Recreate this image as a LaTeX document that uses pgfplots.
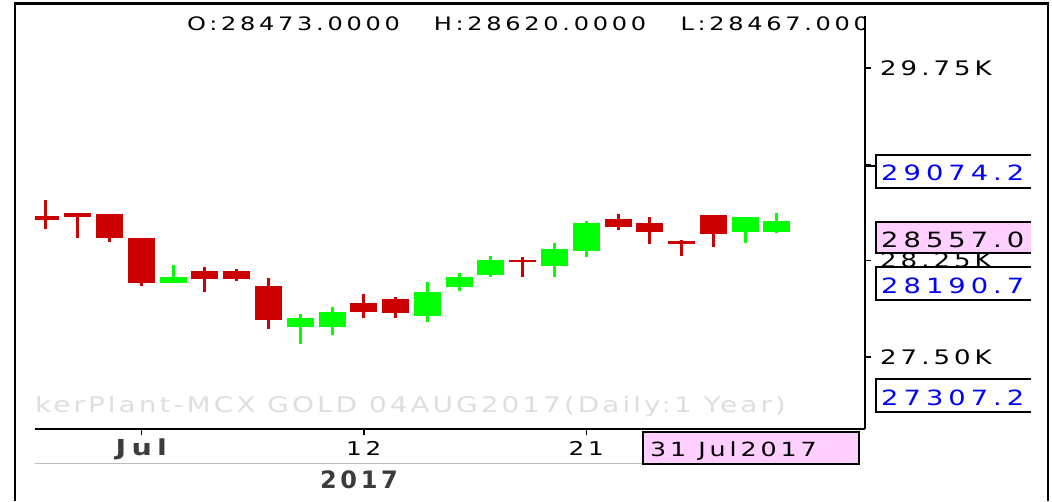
\documentclass[border=0pt]{standalone}
\usepackage{fontspec}
\setmainfont{DejaVu Sans}
\newfontfamily\tp[FakeStretch=1.3,LetterSpace=20]{DejaVu Sans}
\newfontfamily\tpb[FakeStretch=1.3,LetterSpace=24]{DejaVu Sans}
\newfontfamily\tpw[FakeStretch=1.3,LetterSpace=14]{DejaVu Sans}
\newfontfamily\tpn[LetterSpace=15]{DejaVu Sans}
\usepackage{pgfplots}
\usepackage{pgfplotstable}
\pgfplotsset{compat=1.18}

\definecolor{cred}{RGB}{204,0,0}
\definecolor{cgreen}{RGB}{0,255,0}
\definecolor{cpink}{RGB}{255,208,255}
\definecolor{cblue}{RGB}{0,0,255}
\definecolor{cwater}{RGB}{222,222,222}
\definecolor{cdark}{RGB}{60,60,60}
\definecolor{cline}{RGB}{190,190,190}

% daily OHLC, MCX GOLD 04AUG2017; i = trading day (0 = 28 Jun, 23 = 31 Jul)
\pgfplotstableread{
i  O     H     L     C
0  28597 28722 28496 28566
1  28621 28621 28426 28590
2  28613 28613 28395 28426
3  28426 28426 28051 28075
5  28168 28200 28005 28106
6  28168 28184 28090 28106
7  28051 28114 27716 27786
10 27919 27989 27802 27849
11 27950 27966 27802 27841
15 28254 28278 28122 28239
18 28574 28613 28488 28512
19 28543 28590 28379 28473
20 28402 28410 28285 28379
21 28605 28605 28356 28457
}\downdays

\pgfplotstableread{
i  O     H     L     C
4  28075 28215 28075 28122
8  27732 27833 27599 27802
9  27732 27888 27669 27849
12 27817 28083 27771 28005
13 28044 28153 28013 28122
14 28137 28285 28122 28254
16 28207 28387 28122 28340
17 28324 28558 28278 28543
22 28473 28590 28387 28590
23 28473 28620 28467 28557
}\updays

\pgfplotsset{
  candle/.style 2 args={draw=none, mark=none,
    error bars/.cd, y dir=plus, y explicit, error mark=none,
    error bar style={draw=#1, line width=#2}},
}

\begin{document}
\begin{tikzpicture}[x=1pt,y=1pt]
\useasboundingbox (0,0) rectangle (1052,-501);

% watermark and OHLC header, clipped at the plot area
\begin{scope}
\clip (35,-5) rectangle (865,-429);
\node[anchor=base west, inner sep=0pt, text=cwater, font=\tpw\fontsize{21.5}{21.5}\selectfont]
  at (35,-412.5) {kerPlant-MCX GOLD 04AUG2017(Daily:1 Year)};
\node[anchor=base west, inner sep=0pt, font=\tp\fontsize{18.5}{18.5}\selectfont] at (187,-30) {O:28473.0000};
\node[anchor=base west, inner sep=0pt, font=\tp\fontsize{18.5}{18.5}\selectfont] at (433.7,-30) {H:28620.0000};
\node[anchor=base west, inner sep=0pt, font=\tp\fontsize{18.5}{18.5}\selectfont] at (680.3,-30) {L:28467.0000};
\end{scope}

\begin{axis}[
  at={(35pt,-429pt)}, anchor=south west,
  scale only axis, width=830pt, height=413pt,
  xmin=-0.346, xmax=25.77, ymin=26939, ymax=30155,
  axis x line*=bottom, axis y line*=right,
  axis line style={line width=2pt, black},
  tick align=outside, major tick length=6pt,
  tick style={line width=1.5pt, black},
  scaled y ticks=false, scaled x ticks=false,
  xtick={3,10,17},
  xticklabels={{\tpb\fontsize{22}{22}\selectfont\bfseries\color{cdark}Jul},12,21},
  ytick={27500,28250,29000,29750},
  yticklabels={27.50K,28.25K,,29.75K},
  xticklabel style={font=\tp\fontsize{19}{19}\selectfont, inner sep=0pt, anchor=base, yshift=-20pt},
  yticklabel style={font=\tp\fontsize{20}{20}\selectfont, inner sep=0pt, anchor=west, xshift=9pt},
]
% wicks
\addplot[candle={cred}{3pt}] table[x=i, y=L, y error plus expr=\thisrow{H}-\thisrow{L}] {\downdays};
\addplot[candle={cgreen}{3pt}] table[x=i, y=L, y error plus expr=\thisrow{H}-\thisrow{L}] {\updays};
% bodies
\addplot[candle={cred}{27pt}] table[x=i, y=C, y error plus expr=\thisrow{O}-\thisrow{C}] {\downdays};
\addplot[candle={cgreen}{27pt}] table[x=i, y=O, y error plus expr=\thisrow{C}-\thisrow{O}] {\updays};
\end{axis}

% value boxes on the price scale
\draw[line width=1.5pt] (865,-166) -- (876,-166);
\draw[line width=1.5pt, fill=white] (1031,-155) -- (876,-155) -- (876,-188) -- (1031,-188);
\node[anchor=base west, inner sep=0pt, text=cblue, font=\tpb\fontsize{21}{21}\selectfont] at (881,-180) {29074.2};
\draw[line width=1.5pt, fill=cpink] (1031,-222) -- (876,-222) -- (876,-253) -- (1031,-253);
\node[anchor=base west, inner sep=0pt, font=\tpb\fontsize{21}{21}\selectfont] at (881,-247) {28557.0};
\draw[line width=1.5pt, fill=white] (1031,-267) -- (876,-267) -- (876,-300) -- (1031,-300);
\node[anchor=base west, inner sep=0pt, text=cblue, font=\tpb\fontsize{21}{21}\selectfont] at (881,-293) {28190.7};
\draw[line width=1.5pt, fill=white] (1031,-379) -- (876,-379) -- (876,-412) -- (1031,-412);
\node[anchor=base west, inner sep=0pt, text=cblue, font=\tpb\fontsize{21}{21}\selectfont] at (881,-405) {27307.2};

% date strip
\draw[line width=1.5pt, cline] (35,-463.5) -- (642,-463.5);
\draw[line width=2pt, fill=cpink] (642.5,-432) rectangle (859,-464);
\node[anchor=base west, inner sep=0pt, font=\tp\fontsize{19.5}{19.5}\selectfont] at (650,-456) {31 Jul2017};
\node[anchor=base, inner sep=0pt, text=cdark, font=\tpn\fontsize{24}{24}\selectfont\bfseries] at (359,-488.5) {2017};

% outer frame
\draw[line width=2.5pt] (15,-501) -- (15,-3.5) -- (1048,-3.5) -- (1048,-501);
\end{tikzpicture}
\end{document}
